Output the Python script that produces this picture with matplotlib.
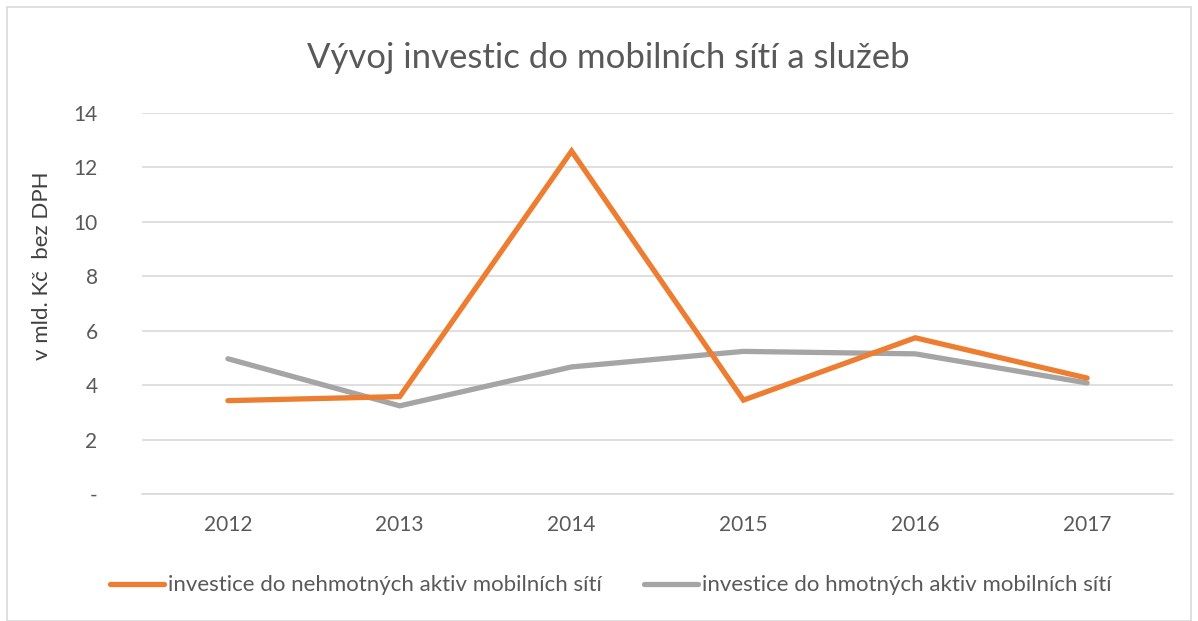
import matplotlib.pyplot as plt
from matplotlib.patches import Rectangle

years = ['2012', '2013', '2014', '2015', '2016', '2017']
nehmotne = [3.43, 3.58, 12.6, 3.45, 5.74, 4.26]
hmotne = [4.97, 3.24, 4.67, 5.24, 5.15, 4.08]
yticks = [0, 2, 4, 6, 8, 10, 12, 14]
ytick_labels = ['-', '2', '4', '6', '8', '10', '12', '14']

orange = '#ED7D31'
gray = '#A5A5A5'
text_col = '#595959'

plt.rcParams['font.family'] = ['Lato', 'DejaVu Sans']

fig = plt.figure(figsize=(11.98, 6.21), dpi=100)
ax = fig.add_axes([142 / 1198, 1 - 494 / 621, (1173 - 142) / 1198, (494 - 113) / 621])

x = range(len(years))
ax.plot(x, nehmotne, color=orange, lw=3.8, solid_capstyle='round', solid_joinstyle='miter',
        label='investice do nehmotných aktiv mobilních sítí', zorder=3)
ax.plot(x, hmotne, color=gray, lw=3.8, solid_capstyle='round', solid_joinstyle='miter',
        label='investice do hmotných aktiv mobilních sítí', zorder=2)

ax.set_xlim(-0.5, len(years) - 0.5)
ax.set_ylim(0, 14)
ax.set_xticks(list(x))
ax.set_xticklabels(years)
ax.set_yticks(yticks)
ax.set_yticklabels(ytick_labels)
ax.tick_params(axis='both', length=0, labelsize=15, colors=text_col)
ax.tick_params(axis='y', pad=32)
ax.tick_params(axis='x', pad=15)
ax.grid(axis='y', color='#D9D9D9', lw=1.2)
ax.set_axisbelow(True)
for s in ['top', 'right', 'left']:
    ax.spines[s].set_visible(False)
ax.spines['bottom'].set_color('#D9D9D9')
ax.spines['bottom'].set_linewidth(1.2)

ax.set_ylabel('v mld. Kč  bez DPH', fontsize=16, color='#404040')
ax.yaxis.set_label_coords(-0.087, 0.6)

fig.text(608 / 1198, 1 - 58 / 621, 'Vývoj investic do mobilních sítí a služeb',
         ha='center', va='center', fontsize=25, color=text_col)

ax.legend(loc='center', bbox_to_anchor=(0.455, -0.24), ncol=2, frameon=False,
          fontsize=16, labelcolor=text_col, handlelength=2.4, handletextpad=0.2,
          columnspacing=1.9)

fig.patches.append(Rectangle((7 / 1198, 0.0), 1 - 14 / 1198, 1 - 7 / 621,
                             transform=fig.transFigure, fill=False,
                             edgecolor='#D9D9D9', lw=1.2))

fig.savefig('out.png', dpi=100, facecolor='white')
